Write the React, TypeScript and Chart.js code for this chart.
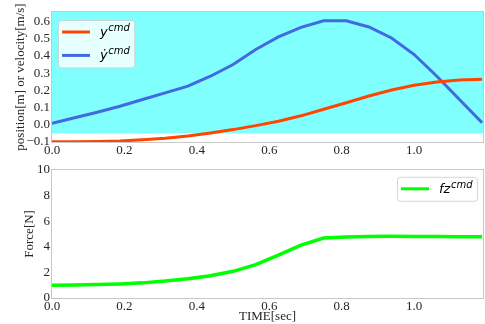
import React, { useEffect, useRef } from 'react';
import { Chart, registerables } from 'chart.js';

Chart.register(...registerables);

// ---- data ----
const TIME = [0, 0.0625, 0.125, 0.1875, 0.25, 0.3125, 0.375, 0.4375, 0.5, 0.5625, 0.625, 0.6875, 0.75, 0.8125, 0.875, 0.9375, 1.0, 1.0625, 1.125, 1.1875];
const Y_CMD = [-0.099, -0.0985, -0.097, -0.094, -0.087, -0.078, -0.065, -0.048, -0.028, -0.005, 0.021, 0.052, 0.09, 0.128, 0.167, 0.202, 0.229, 0.249, 0.26, 0.264];
const YDOT_CMD = [0.008, 0.041, 0.073, 0.108, 0.147, 0.185, 0.224, 0.282, 0.35, 0.437, 0.51, 0.566, 0.604, 0.604, 0.568, 0.504, 0.408, 0.282, 0.147, 0.012];
const FZ_CMD = [1.0, 1.01, 1.05, 1.1, 1.18, 1.32, 1.5, 1.74, 2.08, 2.6, 3.35, 4.12, 4.68, 4.76, 4.8, 4.81, 4.8, 4.79, 4.78, 4.78];

const X_TICKS = [0, 0.2, 0.4, 0.6, 0.8, 1.0];
const TOP_Y_TICKS = [-0.1, 0, 0.1, 0.2, 0.3, 0.4, 0.5, 0.6];
const BOTTOM_Y_TICKS = [0, 2, 4, 6, 8, 10];
const X_MIN = 0;
const X_MAX = 1.19;
const TOP_Y_MIN = -0.1;
const TOP_Y_MAX = 0.655;
const BOTTOM_Y_MIN = 0;
const BOTTOM_Y_MAX = 10;
const CYAN_FLOOR = -0.05;

const SERIF = '"Liberation Serif", "Times New Roman", serif';
const SANS = '"DejaVu Sans", sans-serif';
const TEXT_COLOR = '#262626';
const FRAME_COLOR = '#c8c8c8';

const pts = (ys: number[]) => ys.map((y, i) => ({ x: TIME[i], y }));
const fmt = (v: number, d: number) => {
  const s = Math.abs(v).toFixed(d);
  return v < -1e-9 ? '\u2212' + s : s;
};

type LegendItem = { color: string; base: string; sup: string };

const drawLegend = (chart: any, items: LegendItem[], corner: 'left' | 'right') => {
  const ctx = chart.ctx;
  const ca = chart.chartArea;
  const lineLen = 28, padL = 4, gap = 10, padR = 5, rowH = 23.4, padV = 12;
  ctx.save();
  let maxText = 0;
  items.forEach((it) => {
    ctx.font = `italic 13px ${SANS}`;
    const w1 = ctx.measureText(it.base).width;
    ctx.font = `italic 10px ${SANS}`;
    const w2 = ctx.measureText(it.sup).width;
    maxText = Math.max(maxText, w1 + w2);
  });
  const boxW = padL + lineLen + gap + maxText + padR;
  const boxH = padV * 2 + (items.length - 1) * rowH;
  const bx = corner === 'left' ? ca.left + 6 : ca.right - 6 - boxW;
  const by = corner === 'left' ? ca.top + 8 : ca.top + 7;
  ctx.beginPath();
  if ((ctx as any).roundRect) (ctx as any).roundRect(bx + 0.5, by + 0.5, boxW, boxH, 3);
  else ctx.rect(bx + 0.5, by + 0.5, boxW, boxH);
  ctx.fillStyle = 'rgba(255,255,255,0.8)';
  ctx.fill();
  ctx.strokeStyle = 'rgba(204,204,204,0.8)';
  ctx.lineWidth = 1;
  ctx.stroke();
  items.forEach((it, i) => {
    const ry = by + padV + i * rowH;
    ctx.beginPath();
    ctx.moveTo(bx + padL, ry);
    ctx.lineTo(bx + padL + lineLen, ry);
    ctx.strokeStyle = it.color;
    ctx.lineWidth = 3;
    ctx.stroke();
    const tx = bx + padL + lineLen + gap;
    ctx.fillStyle = '#000';
    ctx.textAlign = 'left';
    ctx.textBaseline = 'alphabetic';
    ctx.font = `italic 13px ${SANS}`;
    ctx.fillText(it.base, tx, ry + 4);
    const w1 = ctx.measureText(it.base).width;
    ctx.font = `italic 10px ${SANS}`;
    ctx.fillText(it.sup, tx + w1 + 0.5, ry - 1);
  });
  ctx.restore();
};

const framePlugin = {
  id: 'frame',
  afterDatasetsDraw(chart: any) {
    const { ctx, chartArea: ca } = chart;
    ctx.save();
    ctx.strokeStyle = FRAME_COLOR;
    ctx.lineWidth = 1;
    ctx.strokeRect(Math.round(ca.left) - 0.5, Math.round(ca.top) - 0.5, Math.round(ca.right - ca.left) + 1, Math.round(ca.bottom - ca.top) + 1);
    ctx.restore();
  },
};

const cyanPlugin = {
  id: 'cyanBand',
  beforeDatasetsDraw(chart: any) {
    const { ctx, chartArea: ca, scales } = chart;
    const yb = scales.y.getPixelForValue(CYAN_FLOOR);
    ctx.save();
    ctx.fillStyle = '#80ffff';
    ctx.fillRect(ca.left, ca.top, ca.right - ca.left, yb - ca.top);
    ctx.restore();
  },
};

const legendPlugin = {
  id: 'customLegend',
  afterDraw(chart: any, _args: any, opts: any) {
    if (opts && opts.items) drawLegend(chart, opts.items, opts.corner);
  },
};

const xScale = (height: number, title?: string) => ({
  type: 'linear' as const,
  min: X_MIN,
  max: X_MAX,
  grid: { display: false, drawTicks: false },
  border: { display: false },
  afterBuildTicks: (s: any) => {
    s.ticks = X_TICKS.map((v) => ({ value: v }));
  },
  afterFit: (s: any) => {
    s.height = height;
  },
  ticks: {
    color: TEXT_COLOR,
    font: { family: SERIF, size: 13 },
    padding: 1,
    maxRotation: 0,
    autoSkip: false,
    callback: (v: any) => fmt(Number(v), 1),
  },
  title: title
    ? { display: true, text: title, color: TEXT_COLOR, font: { family: SERIF, size: 13 }, padding: { top: 0, bottom: 0 } }
    : { display: false },
});

const yScale = (min: number, max: number, ticks: number[], decimals: number, title: string, titlePad: number) => ({
  type: 'linear' as const,
  min,
  max,
  grid: { display: false, drawTicks: false },
  border: { display: false },
  afterBuildTicks: (s: any) => {
    s.ticks = ticks.map((v) => ({ value: v }));
  },
  afterFit: (s: any) => {
    s.width = 52;
  },
  ticks: {
    color: TEXT_COLOR,
    font: { family: SERIF, size: 13 },
    padding: 2,
    autoSkip: false,
    callback: (v: any) => fmt(Number(v), decimals),
  },
  title: { display: true, text: title, color: TEXT_COLOR, font: { family: SERIF, size: 13 }, padding: { top: titlePad, bottom: 0 } },
});

export default function App() {
  const topRef = useRef<HTMLCanvasElement>(null);
  const botRef = useRef<HTMLCanvasElement>(null);

  useEffect(() => {
    const top = new Chart(topRef.current!, {
      type: 'line',
      data: {
        datasets: [
          { label: 'y_cmd', data: pts(Y_CMD), borderColor: '#ff4500', borderWidth: 3, pointRadius: 0, tension: 0, fill: false },
          { label: 'ydot_cmd', data: pts(YDOT_CMD), borderColor: '#4169e1', borderWidth: 3, pointRadius: 0, tension: 0, fill: false },
        ],
      },
      options: {
        responsive: false,
        animation: false,
        devicePixelRatio: 1,
        layout: { padding: { top: 12, right: 2, left: 0, bottom: 0 } },
        plugins: {
          legend: { display: false },
          tooltip: { enabled: false },
          customLegend: {
            corner: 'left',
            items: [
              { color: '#ff4500', base: 'y', sup: 'cmd' },
              { color: '#4169e1', base: '\u1E8F', sup: 'cmd' },
            ],
          },
        } as any,
        scales: {
          x: xScale(18),
          y: yScale(TOP_Y_MIN, TOP_Y_MAX, TOP_Y_TICKS, 1, 'position[m] or velocity[m/s]', 13),
        } as any,
      },
      plugins: [cyanPlugin, framePlugin, legendPlugin],
    });

    const bot = new Chart(botRef.current!, {
      type: 'line',
      data: {
        datasets: [
          { label: 'fz_cmd', data: pts(FZ_CMD), borderColor: '#00ff00', borderWidth: 3.5, pointRadius: 0, tension: 0, fill: false },
        ],
      },
      options: {
        responsive: false,
        animation: false,
        devicePixelRatio: 1,
        layout: { padding: { top: 8, right: 2, left: 0, bottom: 0 } },
        plugins: {
          legend: { display: false },
          tooltip: { enabled: false },
          customLegend: {
            corner: 'right',
            items: [{ color: '#00ff00', base: 'fz', sup: 'cmd' }],
          },
        } as any,
        scales: {
          x: xScale(26, 'TIME[sec]'),
          y: yScale(BOTTOM_Y_MIN, BOTTOM_Y_MAX, BOTTOM_Y_TICKS, 0, 'Force[N]', 22),
        } as any,
      },
      plugins: [framePlugin, legendPlugin],
    });

    return () => {
      top.destroy();
      bot.destroy();
    };
  }, []);

  return (
    <div style={{ position: 'absolute', left: 0, top: 0, width: 485, height: 324, background: '#fff' }}>
      <canvas ref={topRef} width={485} height={160} style={{ display: 'block' }} />
      <canvas ref={botRef} width={485} height={164} style={{ display: 'block' }} />
    </div>
  );
}
